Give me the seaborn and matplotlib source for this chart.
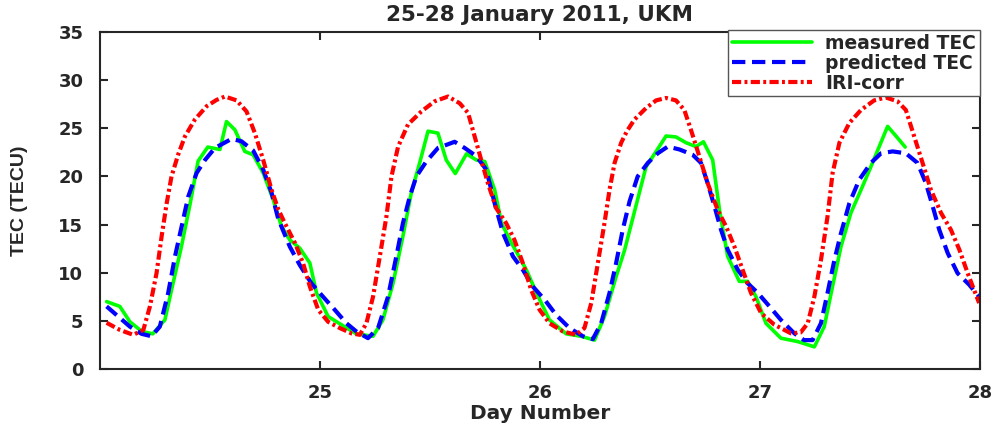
import pandas as pd
import matplotlib
matplotlib.use("Agg")
import matplotlib.pyplot as plt
import seaborn as sns

# measured TEC (green)
meas_day = [24.03, 24.09, 24.136, 24.19, 24.24, 24.295, 24.325, 24.37, 24.41, 24.446,
            24.49, 24.545, 24.575, 24.613, 24.658, 24.696, 24.742, 24.787, 24.825, 24.863,
            24.908, 24.954, 24.984, 25.037, 25.097, 25.165, 25.241, 25.286, 25.332, 25.377,
            25.415, 25.453, 25.491, 25.536, 25.574, 25.615, 25.666, 25.711, 25.749, 25.794,
            25.825, 25.87, 25.938, 25.984, 26.043, 26.119, 26.187, 26.248, 26.293, 26.346,
            26.384, 26.429, 26.482, 26.528, 26.573, 26.618, 26.664, 26.709, 26.743, 26.785,
            26.816, 26.853, 26.906, 26.944, 26.982, 27.027, 27.095, 27.171, 27.247, 27.292,
            27.33, 27.368, 27.413, 27.459, 27.504, 27.542, 27.58, 27.618, 27.66]
meas_tec = [7.0, 6.5, 4.9, 3.9, 3.65, 5.1, 8.2, 12.7, 17.2, 21.6,
            23.05, 22.8, 25.7, 24.85, 22.6, 22.25, 20.35, 17.6, 14.8, 13.4,
            12.55, 11.0, 7.9, 5.45, 4.6, 3.65, 3.4, 5.1, 8.9, 13.8,
            18.3, 21.4, 24.7, 24.5, 21.7, 20.3, 22.35, 21.7, 21.55, 18.6,
            15.15, 13.1, 10.3, 7.9, 5.1, 3.65, 3.4, 3.0, 5.45, 9.6,
            12.3, 16.3, 21.0, 22.6, 24.2, 24.1, 23.5, 23.1, 23.6, 21.7,
            16.5, 11.7, 9.1, 9.1, 7.5, 4.75, 3.2, 2.85, 2.3, 4.4,
            8.6, 12.7, 16.2, 18.6, 21.0, 23.1, 25.2, 24.2, 23.05]

# predicted TEC (blue)
pred_day = [24.03, 24.083, 24.136, 24.189, 24.234, 24.272, 24.31, 24.341, 24.371, 24.401,
            24.439, 24.477, 24.522, 24.598, 24.643, 24.696, 24.742, 24.78, 24.81, 24.863,
            24.908, 24.961, 25.014, 25.067, 25.12, 25.165, 25.218, 25.264, 25.309, 25.347,
            25.377, 25.408, 25.438, 25.483, 25.536, 25.612, 25.658, 25.711, 25.756, 25.794,
            25.832, 25.877, 25.922, 25.968, 26.021, 26.074, 26.134, 26.195, 26.24, 26.278,
            26.316, 26.346, 26.376, 26.407, 26.444, 26.49, 26.535, 26.581, 26.634, 26.694,
            26.732, 26.762, 26.793, 26.823, 26.853, 26.899, 26.944, 26.99, 27.043, 27.095,
            27.156, 27.2, 27.239, 27.277, 27.307, 27.338, 27.368, 27.406, 27.451, 27.504,
            27.55, 27.603, 27.663, 27.716, 27.754, 27.785, 27.815, 27.853, 27.898, 27.951,
            27.996]
pred_tec = [6.5, 5.45, 4.4, 3.65, 3.4, 4.4, 7.9, 11.7, 14.8, 17.9,
            20.35, 21.7, 22.95, 23.9, 23.65, 22.7, 20.7, 18.3, 15.6, 12.7,
            10.8, 8.9, 7.5, 6.15, 4.75, 3.9, 3.2, 4.25, 7.5, 11.7,
            15.15, 17.9, 20.0, 21.55, 22.95, 23.6, 22.95, 22.1, 20.7, 17.2,
            14.1, 11.7, 10.3, 8.55, 7.2, 5.6, 4.25, 3.4, 3.1, 4.75,
            7.9, 11.0, 14.45, 17.4, 20.0, 21.4, 22.4, 23.1, 22.8, 22.25,
            21.4, 19.3, 16.9, 14.45, 12.4, 10.3, 8.9, 7.9, 6.5, 5.1,
            3.7, 3.0, 3.0, 4.75, 7.9, 11.3, 14.1, 17.2, 19.65, 21.4,
            22.4, 22.6, 22.4, 21.4, 19.3, 16.9, 14.45, 12.05, 9.95, 8.75,
            7.5]

# IRI-corr (red)
iri_day = [24.03, 24.091, 24.151, 24.197, 24.227, 24.257, 24.28, 24.303, 24.325, 24.355,
           24.386, 24.431, 24.485, 24.53, 24.568, 24.621, 24.666, 24.704, 24.742, 24.78,
           24.81, 24.84, 24.886, 24.923, 24.954, 24.992, 25.037, 25.09, 25.143, 25.181,
           25.211, 25.241, 25.272, 25.302, 25.325, 25.355, 25.4, 25.461, 25.521, 25.582,
           25.635, 25.673, 25.703, 25.733, 25.763, 25.801, 25.846, 25.884, 25.922, 25.96,
           25.998, 26.043, 26.104, 26.164, 26.202, 26.233, 26.263, 26.293, 26.316, 26.339,
           26.369, 26.395, 26.429, 26.482, 26.528, 26.573, 26.618, 26.656, 26.686, 26.724,
           26.762, 26.808, 26.846, 26.884, 26.921, 26.959, 27.005, 27.065, 27.141, 27.185,
           27.217, 27.247, 27.277, 27.307, 27.33, 27.361, 27.406, 27.459, 27.519, 27.572,
           27.625, 27.663, 27.701, 27.739, 27.777, 27.823, 27.868, 27.906, 27.944, 27.996]
iri_tec = [4.8, 4.05, 3.55, 4.05, 6.5, 9.95, 13.75, 17.2, 20.0, 22.25,
           24.15, 25.9, 27.3, 27.95, 28.3, 27.9, 26.75, 24.5, 21.7, 18.6,
           16.6, 15.15, 13.1, 11.0, 8.55, 6.15, 4.9, 4.25, 3.7, 3.55,
           4.75, 7.5, 11.7, 15.85, 20.0, 23.1, 25.4, 26.75, 27.8, 28.3,
           27.6, 26.6, 24.15, 21.7, 19.3, 16.7, 15.15, 13.4, 11.0, 8.2,
           6.15, 4.75, 3.9, 3.55, 4.25, 6.85, 11.0, 15.15, 18.6, 21.4,
           23.5, 24.7, 25.9, 27.1, 27.9, 28.15, 27.9, 26.9, 24.85, 22.1,
           19.3, 16.5, 14.8, 12.7, 10.3, 7.9, 5.8, 4.6, 3.7, 3.8,
           4.75, 7.5, 11.3, 15.85, 20.35, 23.5, 25.55, 26.9, 27.9, 28.2,
           27.8, 26.9, 24.15, 21.4, 18.6, 16.2, 14.45, 12.4, 9.95, 6.85]

x_ticks = [25, 26, 27, 28]
y_ticks = [0, 5, 10, 15, 20, 25, 30, 35]

sns.set_style("ticks")
plt.rcParams['font.family'] = ['DejaVu Sans']
plt.rcParams['font.weight'] = 'bold'

fig = plt.figure(figsize=(10, 4.23), dpi=100)
ax = fig.add_axes([0.1, 0.1277, 0.88, 0.7966])

sns.lineplot(x=meas_day, y=meas_tec, ax=ax, color='#00ff00', lw=2.6,
             sort=False, label='measured TEC')
sns.lineplot(x=pred_day, y=pred_tec, ax=ax, color='#0000ff', lw=3.0,
             linestyle=(0, (3.2, 1.6)), sort=False, label='predicted TEC')
sns.lineplot(x=iri_day, y=iri_tec, ax=ax, color='#ff0000', lw=3.0,
             linestyle=(0, (2.2, 0.8, 0.7, 0.8)), sort=False, label='IRI-corr')

ax.set_xlim(24, 28)
ax.set_ylim(0, 35)
ax.set_xticks(x_ticks)
ax.set_yticks(y_ticks)
ax.tick_params(direction='in', length=6, width=1.5, top=True, right=True,
               labelsize=13, colors='#262626')
ax.tick_params(axis='y', pad=12)
ax.tick_params(axis='x', pad=11)
for s in ax.spines.values():
    s.set_color('#262626')
    s.set_linewidth(1.5)

ax.set_title('25-28 January 2011, UKM', fontsize=15.5, fontweight='bold', pad=8)
ax.set_xlabel('Day Number', fontsize=14.5, fontweight='bold', labelpad=1, color='#262626')
ax.set_ylabel('TEC (TECU)', fontsize=14, fontweight='bold', labelpad=22,
              family=['Liberation Sans Narrow', 'Liberation Sans'], color='#262626')

leg = ax.legend(loc='upper right', bbox_to_anchor=(1.0, 1.006), borderaxespad=0,
                prop=dict(weight='bold', size=13.5), fancybox=False, framealpha=1,
                edgecolor='#555555', handlelength=4.3, handletextpad=0.7,
                labelspacing=0.05, borderpad=0.2)
leg.get_frame().set_linewidth(1.0)

fig.savefig('out.png', dpi=100)
